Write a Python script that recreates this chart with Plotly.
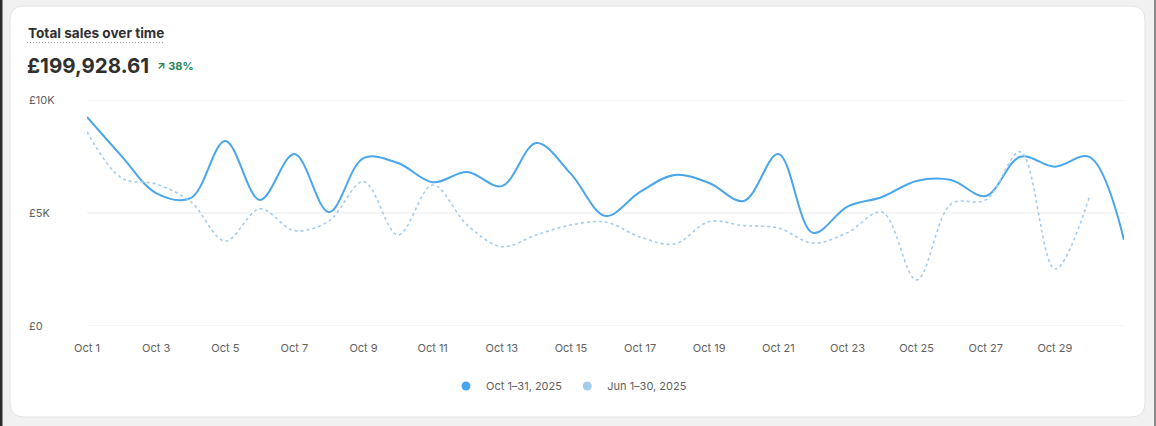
import plotly.graph_objects as go

# ---------------- data ----------------
oct_days = list(range(1, 32))
oct_sales = [9250, 7520, 5880, 5660, 8190, 5580, 7610, 5040, 7430, 7210,
             6360, 6810, 6190, 8100, 6730, 4870, 5930, 6680, 6330, 5530,
             7610, 4120, 5280, 5710, 6420, 6460, 5750, 7490, 7050, 7480, 3810]
jun_days = list(range(1, 31))
jun_sales = [8600, 6550, 6280, 5500, 3760, 5180, 4220, 4650, 6390, 4030,
             6240, 4470, 3510, 4030, 4470, 4600, 3940, 3630, 4620, 4440,
             4340, 3670, 4130, 5040, 2040, 5400, 5580, 7710, 2520, 5710]
x_tick_vals = list(range(1, 31, 2))
x_tick_text = [f"Oct {d}" for d in x_tick_vals]
y_tick_vals = [0, 5000, 10000]
y_tick_text = ["£0", "£5K", "£10K"]
series_names = ["Oct 1–31, 2025", "Jun 1–30, 2025"]
title_text = "Total sales over time"
total_text = "£199,928.61"
change_text = "38%"

# ---------------- layout geometry ----------------
W, H = 1156, 426
ML, MR, MT, MB = 87, 32, 100, 100
PW, PH = W - ML - MR, H - MT - MB

def fx(px):
    return (px - ML) / PW

def fy(py):
    return (H - MB - py) / PH

C_SOLID = "#4aa6ea"
C_DASH = "#a3cdef"
FONT = "Inter"
TXT = "#616161"

fig = go.Figure()
fig.add_trace(go.Scatter(x=oct_days, y=oct_sales, mode="lines",
                         line=dict(color=C_SOLID, width=2, shape="spline", smoothing=1.0),
                         showlegend=False, hoverinfo="skip"))
fig.add_trace(go.Scatter(x=jun_days, y=jun_sales, mode="lines",
                         line=dict(color=C_DASH, width=1.6, shape="spline", smoothing=1.0,
                                   dash="3px,3px"),
                         showlegend=False, hoverinfo="skip"))
# legend entries (circle markers)
for name, col in zip(series_names, [C_SOLID, C_DASH]):
    fig.add_trace(go.Scatter(x=[None], y=[None], mode="markers", name=name,
                             marker=dict(color=col, size=9, symbol="circle"),
                             showlegend=True, hoverinfo="skip"))

# card background
def rounded_rect(x0, y0, x1, y1, r):
    X0, X1 = fx(x0), fx(x1)
    Y0, Y1 = fy(y0), fy(y1)  # Y0 top (higher), Y1 bottom
    rx, ry = r / PW, r / PH
    return (f"M {X0+rx},{Y0} L {X1-rx},{Y0} Q {X1},{Y0} {X1},{Y0-ry} "
            f"L {X1},{Y1+ry} Q {X1},{Y1} {X1-rx},{Y1} "
            f"L {X0+rx},{Y1} Q {X0},{Y1} {X0},{Y1+ry} "
            f"L {X0},{Y0-ry} Q {X0},{Y0} {X0+rx},{Y0} Z")

shapes = [
    dict(type="path", xref="paper", yref="paper", layer="below",
         path=rounded_rect(10, 6, 1145, 417, 14),
         fillcolor="white", line=dict(color="#e3e3e3", width=1)),
    dict(type="rect", xref="paper", yref="paper", layer="below",
         x0=fx(0), x1=fx(2.5), y0=fy(0), y1=fy(H), fillcolor="#2b2b2b", line_width=0),
    dict(type="rect", xref="paper", yref="paper", layer="below",
         x0=fx(1154), x1=fx(1156), y0=fy(0), y1=fy(H), fillcolor="#8a8a8a", line_width=0),
    dict(type="line", xref="paper", yref="paper",
         x0=fx(27), x1=fx(163), y0=fy(42.5), y1=fy(42.5),
         line=dict(color="#9a9a9a", width=1, dash="1px,2px")),
]
# horizontal grid lines at each y tick
for v in y_tick_vals:
    shapes.append(dict(type="line", xref="paper", yref="y", layer="below",
                       x0=0, x1=1, y0=v, y1=v,
                       line=dict(color="#ebebeb", width=1)))

annotations = [
    dict(text=f"<b>{title_text}</b>", xref="paper", yref="paper",
         x=fx(26), y=fy(33), xanchor="left", yanchor="middle", showarrow=False,
         font=dict(family=FONT, size=13.6, color="#303030")),
    dict(text=f"<b>{total_text}</b>", xref="paper", yref="paper",
         x=fx(25), y=fy(65), xanchor="left", yanchor="middle", showarrow=False,
         font=dict(family=FONT, size=20.5, color="#303030")),
    dict(text=f"<b>↗ {change_text}</b>", xref="paper", yref="paper",
         x=fx(155), y=fy(66), xanchor="left", yanchor="middle", showarrow=False,
         font=dict(family=FONT, size=11, color="#29845a")),
]
for v, t in zip(y_tick_vals, y_tick_text):
    annotations.append(dict(text=t, xref="paper", yref="y", x=fx(27), y=v,
                            xanchor="left", yanchor="middle", showarrow=False,
                            font=dict(family=FONT, size=11, color=TXT)))

fig.update_layout(
    width=W, height=H,
    margin=dict(l=ML, r=MR, t=MT, b=MB, pad=0),
    paper_bgcolor="#f1f1f1", plot_bgcolor="rgba(0,0,0,0)",
    font=dict(family=FONT, size=11, color=TXT),
    shapes=shapes, annotations=annotations,
    showlegend=True,
    legend=dict(orientation="h", xref="container", x=0.5 - 9 / W, xanchor="center",
                yref="container", y=(H - 386) / H, yanchor="middle",
                font=dict(family=FONT, size=11, color=TXT), bgcolor="rgba(0,0,0,0)",
                itemwidth=30, tracegroupgap=0),
    hovermode=False,
    xaxis=dict(range=[1, 31], tickvals=x_tick_vals, ticktext=x_tick_text,
               showgrid=False, zeroline=False, showline=False, ticks="",
               ticklabelstandoff=14, tickfont=dict(family=FONT, size=11, color=TXT),
               fixedrange=True),
    yaxis=dict(range=[0, 10000], tickvals=y_tick_vals, showticklabels=False,
               showgrid=False, zeroline=False,
               showline=False, ticks="", fixedrange=True),
)

fig.write_html("out.html", config={"displayModeBar": False})
